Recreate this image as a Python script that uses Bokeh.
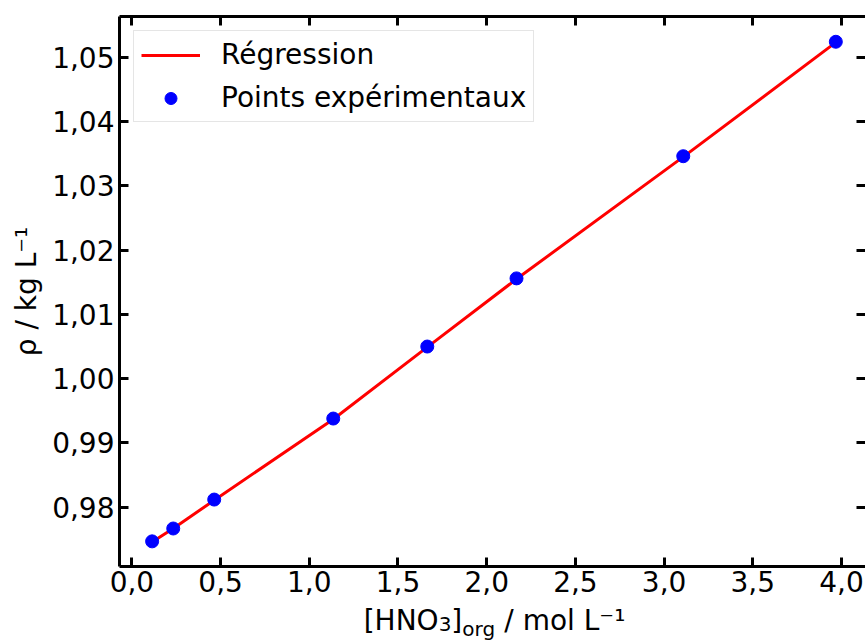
from bokeh.plotting import figure
from bokeh.layouts import column
from bokeh.models import FixedTicker, LinearAxis, Range1d, Legend, LegendItem
from bokeh.core.properties import value
from bokeh.embed import file_html
from bokeh.resources import INLINE

# ---- data ----
conc = [0.114, 0.233, 0.464, 1.135, 1.665, 2.168, 3.108, 3.968]
density = [0.9747, 0.9767, 0.9812, 0.9938, 1.0050, 1.0156, 1.0346, 1.0524]
reg_conc = [0.114, 0.233, 0.464, 1.135, 1.665, 2.168, 3.108, 3.968]
reg_density = [0.9746, 0.9767, 0.9811, 0.9937, 1.0049, 1.0155, 1.0345, 1.0523]

x_ticks = [0.0, 0.5, 1.0, 1.5, 2.0, 2.5, 3.0, 3.5, 4.0]
x_tick_labels = ["0,0", "0,5", "1,0", "1,5", "2,0", "2,5", "3,0", "3,5", "4,0"]
y_ticks = [0.98, 0.99, 1.00, 1.01, 1.02, 1.03, 1.04, 1.05]
y_tick_labels = ["0,98", "0,99", "1,00", "1,01", "1,02", "1,03", "1,04", "1,05"]

legend_labels = ["Régression", "Points expérimentaux"]
y_label = "ρ / kg L⁻¹"
# x label pieces: (text, is_subscript, leading gap in em)
x_label_parts = [("[HNO", False, 0.0), ("3", True, 0.0), ("]", False, 0.0),
                 ("org", True, 0.0), ("/ mol L⁻¹", False, 0.318)]

FONT = "DejaVu Sans"
FS = 28
SUB = 20

W = 865
ML, MT, MB = 119, 16, 37
FRAME_H = 550
H1 = MT + FRAME_H + MB          # main figure height
H2 = 642 - H1                   # strip holding the x-axis title
X0, X1 = -0.0699, 4.1353
PX_PER_UNIT = (W - ML) / (X1 - X0)

x_range = Range1d(X0, X1)
p = figure(width=W, height=H1, output_backend="svg", toolbar_location=None,
           title=None, x_range=x_range, y_range=Range1d(0.97079, 1.05633),
           min_border_left=ML, min_border_right=0, min_border_top=MT,
           min_border_bottom=MB, x_axis_location=None, y_axis_location=None)
p.outline_line_color = None
p.xgrid.visible = False
p.ygrid.visible = False


def style_axis(ax, ticks, labels, show_labels, show_line=True):
    ax.ticker = FixedTicker(ticks=ticks)
    ax.major_label_overrides = {t: s for t, s in zip(ticks, labels)}
    ax.axis_line_width = 3
    ax.axis_line_color = "black" if show_line else None
    ax.major_tick_line_width = 3
    ax.major_tick_line_color = "black"
    ax.major_tick_in = 9
    ax.major_tick_out = 0
    ax.minor_tick_line_color = None
    ax.major_label_text_font = FONT
    if show_labels:
        ax.major_label_text_font_size = f"{FS}px"
        ax.major_label_text_color = "black"
    else:
        ax.major_label_text_font_size = "0px"
        ax.major_label_text_color = None
        ax.major_label_standoff = 0


bottom = LinearAxis()
style_axis(bottom, x_ticks, x_tick_labels, True)
bottom.major_label_standoff = 4
p.add_layout(bottom, "below")

left = LinearAxis()
style_axis(left, y_ticks, y_tick_labels, True)
left.major_label_standoff = 5
left.axis_label = y_label
left.axis_label_text_font = FONT
left.axis_label_text_font_size = f"{FS}px"
left.axis_label_text_font_style = "normal"
left.axis_label_text_color = "black"
left.axis_label_standoff = 6
p.add_layout(left, "left")

top = LinearAxis()
style_axis(top, x_ticks, x_tick_labels, False)
p.add_layout(top, "above")

right = LinearAxis()
style_axis(right, y_ticks, y_tick_labels, False, show_line=False)
p.add_layout(right, "right")

line = p.line(reg_conc, reg_density, line_color="#ff0000", line_width=3)
pts = p.scatter(conc, density, size=13, fill_color="#0000ff",
                line_color="#0000ff", marker="circle")

legend = Legend(items=[LegendItem(label=legend_labels[0], renderers=[line]),
                       LegendItem(label=legend_labels[1], renderers=[pts])],
                location="top_left")
legend.label_text_font = FONT
legend.label_text_font_size = f"{FS}px"
legend.label_text_color = "black"
legend.glyph_width = 59
legend.glyph_height = 30
legend.label_standoff = 21
legend.spacing = 10
legend.padding = 7
legend.margin = 14
legend.border_line_color = "#cccccc"
legend.border_line_width = 1.5
legend.background_fill_alpha = 0.8
p.add_layout(legend)

# ---- strip below: composed x-axis title "[HNO3]org / mol L-1" ----
q = figure(width=W, height=H2, output_backend="svg", toolbar_location=None,
           title=None, x_range=x_range, y_range=Range1d(0, H2),
           min_border_left=ML, min_border_right=0, min_border_top=0,
           min_border_bottom=0, x_axis_location=None, y_axis_location=None)
q.outline_line_color = None
q.xgrid.visible = False
q.ygrid.visible = False

EM = {"[": 0.390, "]": 0.390, "H": 0.752, "N": 0.748, "O": 0.787, "3": 0.636,
      "o": 0.612, "r": 0.411, "g": 0.635, " ": 0.318, "/": 0.337,
      "m": 0.974, "l": 0.278, "L": 0.557, "⁻": 0.420, "¹": 0.401}
xs, widths = [], []
for t, sub, gap in x_label_parts:
    fs = SUB if sub else FS
    widths.append((gap * FS + sum(EM[c] for c in t) * fs) / PX_PER_UNIT)
xc = (X0 + X1 + 0.006) / 2 - sum(widths) / 2
for (t, sub, gap), w in zip(x_label_parts, widths):
    xs.append(xc + gap * FS / PX_PER_UNIT)
    xc += w
main_x = [x for x, (_, sub, _) in zip(xs, x_label_parts) if not sub]
main_t = [t for t, sub, _ in x_label_parts if not sub]
sub_x = [x for x, (_, sub, _) in zip(xs, x_label_parts) if sub]
sub_t = [t for t, sub, _ in x_label_parts if sub]
q.text(x=main_x, y=[H2] * len(main_x), text=main_t,
       text_font=value(FONT), text_font_size=f"{FS}px",
       text_baseline="top", text_align="left", text_color="black")
q.text(x=sub_x, y=[H2 - 13] * len(sub_x), text=sub_t,
       text_font=value(FONT), text_font_size=f"{SUB}px",
       text_baseline="top", text_align="left", text_color="black")

layout = column(p, q, spacing=0)
open("out.html", "w").write(file_html(layout, INLINE))
